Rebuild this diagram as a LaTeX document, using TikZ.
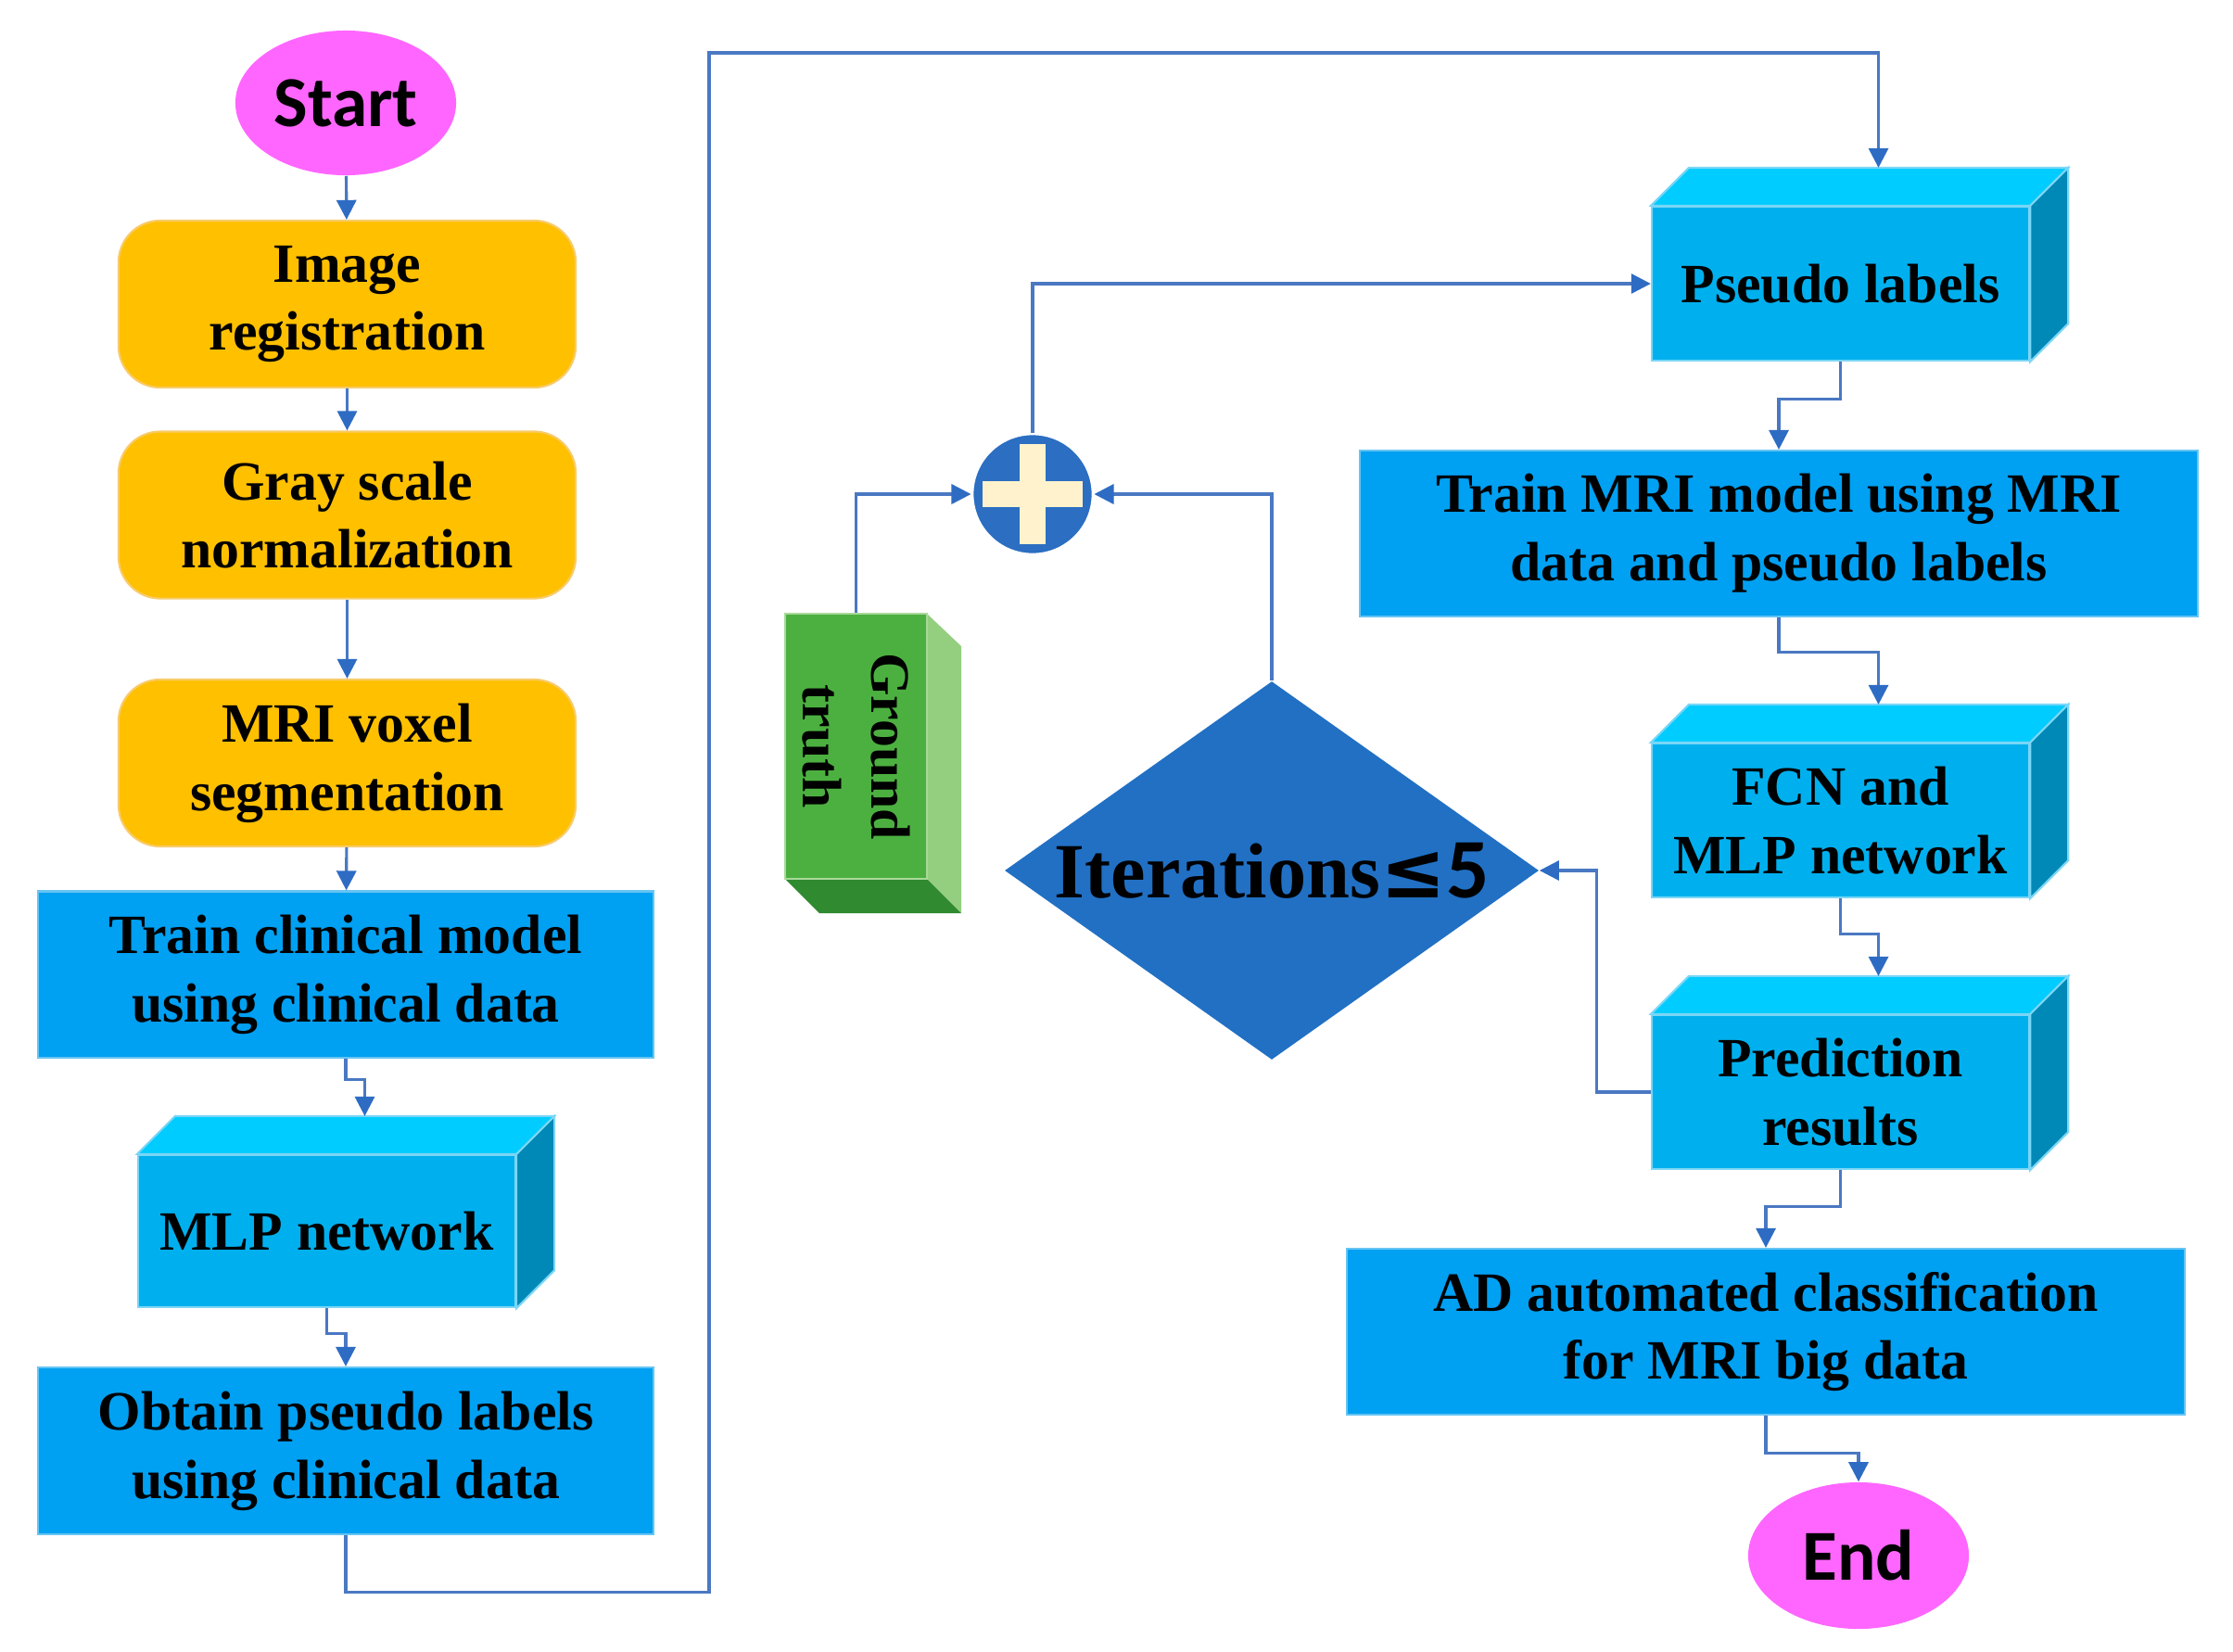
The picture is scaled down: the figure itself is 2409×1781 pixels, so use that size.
\documentclass[tikz,border=0pt]{standalone}
\usepackage{fontspec}
\setmainfont{Liberation Serif}
\newfontfamily\calib{Carlito}
\newfontfamily\dvs{DejaVu Sans}
\usetikzlibrary{shapes.geometric,arrows.meta,calc}
\definecolor{lineblue}{HTML}{4A78C2}
\definecolor{tipblue}{HTML}{2E6CC4}
\definecolor{orangebox}{HTML}{FFC000}
\definecolor{orangeedge}{HTML}{F8CB6A}
\definecolor{flatblue}{HTML}{00A0F2}
\definecolor{flatedge}{HTML}{66C4F2}
\definecolor{cubefront}{HTML}{00B0EE}
\definecolor{cubetop}{HTML}{00CCFF}
\definecolor{cubeside}{HTML}{0088B6}
\definecolor{cubeedge}{HTML}{7AD6F6}
\definecolor{pinkfill}{HTML}{FF66FF}
\definecolor{diafill}{HTML}{2170C4}
\definecolor{plusfill}{HTML}{2B6EC2}
\definecolor{pluscream}{HTML}{FFF2CC}
\definecolor{gtfront}{HTML}{4CB040}
\definecolor{gtside}{HTML}{94CF80}
\definecolor{gtbottom}{HTML}{2F8A30}
\tikzset{
  conn/.style={draw=lineblue, line width=0.9pt, -{Triangle[length=6pt,width=6pt,color=tipblue]}},
  txt/.style={font=\fontsize{17}{21}\selectfont\bfseries, align=center, text=black},
  orangestep/.style={txt, rectangle, rounded corners=0.45cm, fill=orangebox, draw=orangeedge, line width=0.6pt, minimum width=4.93cm, minimum height=1.80cm, inner sep=0pt},
  flatstep/.style={txt, rectangle, fill=flatblue, draw=flatedge, line width=0.6pt, minimum height=1.79cm, inner sep=0pt},
  cubestep/.style={txt, rectangle, fill=cubefront, draw=cubeedge, line width=0.6pt, minimum width=4.07cm, minimum height=1.66cm, inner sep=0pt},
  termstep/.style={ellipse, fill=pinkfill, minimum width=2.38cm, minimum height=1.56cm, inner sep=0pt, font=\calib\fontsize{22}{24}\selectfont\bfseries},
}
\newcommand\cubefaces[2]{%
  \filldraw[fill=cubetop, draw=cubeedge, line width=0.6pt] (#1.north west) -- ($(#1.north west)+(#2,-#2)$) -- ($(#1.north east)+(#2,-#2)$) -- (#1.north east) -- cycle;
  \filldraw[fill=cubeside, draw=cubeedge, line width=0.6pt] (#1.north east) -- ($(#1.north east)+(#2,-#2)$) -- ($(#1.south east)+(#2,-#2)$) -- (#1.south east) -- cycle;
}
\begin{document}
\begin{tikzpicture}[x=0.01cm, y=-0.01cm]
\useasboundingbox (0,0) rectangle (2409,1781);
\fill[white] (0,0) rectangle (2409,1781);

% left column
\node[termstep] (start) at (373,111) {Start};
\node[orangestep] (img) at (374.5,328) {Image\\registration};
\node[orangestep] (gray) at (374.5,555.5) {Gray scale\\normalization};
\node[orangestep] (voxel) at (374.5,823) {MRI voxel\\segmentation};
\node[flatstep, minimum width=6.64cm] (trainc) at (373,1051) {Train clinical model\\using clinical data};
\node[cubestep, minimum height=1.64cm] (mlp) at (352.5,1328) {MLP network};
\cubefaces{mlp}{41}
\node[flatstep, minimum width=6.64cm, minimum height=1.80cm] (obtain) at (373,1565) {Obtain pseudo labels\\using clinical data};

% right column
\node[cubestep] (pseudo) at (1985.5,306) {Pseudo labels};
\cubefaces{pseudo}{41}
\node[flatstep, minimum width=9.04cm] (trainm) at (1919,575.5) {Train MRI model using MRI\\data and pseudo labels};
\node[cubestep] (fcn) at (1985.5,885) {FCN and\\MLP network};
\cubefaces{fcn}{41}
\node[cubestep] (pred) at (1985.5,1178) {Prediction\\results};
\cubefaces{pred}{41}
\node[flatstep, minimum width=9.04cm] (ad) at (1905,1436.5) {AD automated classification\\for MRI big data};
\node[termstep, minimum height=1.58cm] (end) at (2005,1678) {End};

% middle
\node[circle, fill=plusfill, draw=white, line width=0.8pt, minimum size=1.30cm, inner sep=0pt] (plus) at (1114,533) {};
\fill[pluscream] ($(plus.center)+(-54,-14)$) rectangle ($(plus.center)+(54,14)$);
\fill[pluscream] ($(plus.center)+(-14,-54)$) rectangle ($(plus.center)+(14,54)$);

% ground truth cuboid
\fill[gtside] (1000,662) -- (1037,697) -- (1037,985) -- (1000,948) -- cycle;
\fill[gtbottom] (847,948) -- (1000,948) -- (1037,985) -- (884,985) -- cycle;
\node[txt, rotate=-90, fill=gtfront, draw=gtside!80!white, line width=0.6pt, minimum width=2.86cm, minimum height=1.53cm, inner sep=0pt] (gt) at (923.5,805) {Ground\\truth};

\node[diamond, aspect=1.41, fill=diafill, inner sep=0pt, minimum width=5.76cm, minimum height=4.08cm, font=\bfseries] (dia) at (1372,939)
  {{\fontsize{24}{26}\selectfont Iterations}{\dvs\fontsize{24}{26}\selectfont\bfseries ≤}{\calib\fontsize{26}{26}\selectfont\bfseries 5}};

% connectors: left column
\draw[conn] (start) -- (img);
\draw[conn] (img) -- (gray);
\draw[conn] (gray) -- (voxel);
\draw[conn] (voxel) -- (trainc);
\coordinate (mlpT) at ($(mlp.north)+(41,-41)$);
\draw[conn] (trainc.south) -- ++(0,23) -| (mlpT);
\draw[conn] (mlp.south) -- ++(0,27) -| (obtain.north);

% long loop
\coordinate (loopTL) at (765,57);
\coordinate (pseudoT) at ($(pseudo.north)+(41,-41)$);
\draw[conn] (obtain.south) -- ++(0,61) -| (loopTL) -| (pseudoT);

% right column
\coordinate (fcnT) at ($(fcn.north)+(41,-41)$);
\coordinate (predT) at ($(pred.north)+(41,-41)$);
\draw[conn] (pseudo.south) -- ++(0,40) -| (trainm.north);
\draw[conn] (trainm.south) -- ++(0,37) -| (fcnT);
\draw[conn] (fcn.south) -- ++(0,38) -| (predT);
\draw[conn] (pred.south) -- ++(0,39) -| (ad.north);
\draw[conn] (ad.south) -- ++(0,40) -| (end.north);

% feedback
\draw[conn] (pred.west) -- ++(-58,0) |- (dia.east);
\draw[conn] (dia.north) |- (plus.east);
\draw[conn] (gt.west) |- (plus.west);
\draw[conn] (plus.north) |- (pseudo.west);
\end{tikzpicture}
\end{document}
